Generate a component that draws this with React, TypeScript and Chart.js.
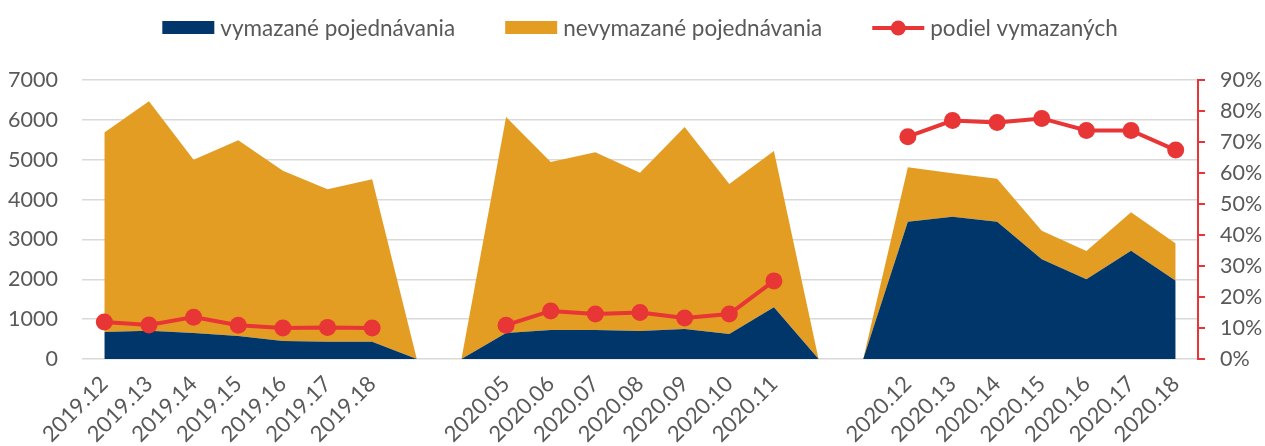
import React, { useEffect, useRef } from 'react';
import { Chart, registerables } from 'chart.js';

Chart.register(...registerables);

const categories = [
  '2019.12', '2019.13', '2019.14', '2019.15', '2019.16', '2019.17', '2019.18', '', '',
  '2020.05', '2020.06', '2020.07', '2020.08', '2020.09', '2020.10', '2020.11', '', '',
  '2020.12', '2020.13', '2020.14', '2020.15', '2020.16', '2020.17', '2020.18',
];

const deletedHearings = [
  680, 710, 650, 580, 450, 430, 430, 0, 0,
  650, 730, 730, 700, 750, 630, 1300, 0, 0,
  3445, 3570, 3445, 2500, 2000, 2715, 1965,
];

const notDeletedHearings = [
  5000, 5755, 4350, 4910, 4270, 3830, 4080, 0, 0,
  5420, 4210, 4460, 3970, 5070, 3760, 3920, 0, 0,
  1365, 1090, 1080, 720, 710, 965, 935,
];

const deletedShare = [
  11.9, 11.0, 13.5, 10.9, 10.0, 10.2, 10.0, null, null,
  10.9, 15.5, 14.5, 15.0, 13.2, 14.5, 25.2, null, null,
  71.7, 76.9, 76.3, 77.6, 73.7, 73.7, 67.4,
];

const leftTicksMax = 7000;
const rightTicksMax = 90;

const FONT = 'Lato, "Liberation Sans", sans-serif';
const BLUE = '#00366a';
const ORANGE = '#e39d22';
const RED = '#e83535';
const TEXT = '#595959';

const legendPlugin = {
  id: 'customLegend',
  afterDraw(chart: any) {
    const ctx = chart.ctx as CanvasRenderingContext2D;
    const ds = chart.data.datasets as any[];
    ctx.save();
    ctx.font = `22.5px ${FONT}`;
    const symW = 52;
    const gapText = 6;
    const gapItem = 50;
    const widths = ds.map((d) => ctx.measureText(d.label).width);
    const total =
      widths.reduce((a, b) => a + b, 0) + ds.length * (symW + gapText) + gapItem * (ds.length - 1);
    let x = (chart.chartArea.left + chart.chartArea.right) / 2 - total / 2;
    const y = 28;
    ds.forEach((d, i) => {
      if (d.yAxisID === 'y1') {
        ctx.strokeStyle = d.borderColor;
        ctx.lineWidth = 4;
        ctx.beginPath();
        ctx.moveTo(x, y);
        ctx.lineTo(x + symW, y);
        ctx.stroke();
        ctx.fillStyle = d.pointBackgroundColor;
        ctx.beginPath();
        ctx.arc(x + symW / 2, y, 7.5, 0, Math.PI * 2);
        ctx.fill();
      } else {
        ctx.fillStyle = d.backgroundColor;
        ctx.fillRect(x, y - 7, symW, 13);
      }
      ctx.fillStyle = TEXT;
      ctx.textBaseline = 'middle';
      ctx.textAlign = 'left';
      ctx.fillText(d.label, x + symW + gapText, y + 1);
      x += symW + gapText + widths[i] + gapItem;
    });
    ctx.restore();
  },
};

export default function App() {
  const ref = useRef<HTMLCanvasElement | null>(null);

  useEffect(() => {
    document.body.style.margin = '0';
    if (!ref.current) return;
    const chart = new Chart(ref.current, {
      type: 'line',
      data: {
        labels: categories,
        datasets: [
          {
            label: 'vymazané pojednávania',
            data: deletedHearings,
            backgroundColor: BLUE,
            borderColor: BLUE,
            borderWidth: 0,
            pointRadius: 0,
            fill: 'origin',
            yAxisID: 'y',
            order: 1,
            tension: 0,
          },
          {
            label: 'nevymazané pojednávania',
            data: notDeletedHearings,
            backgroundColor: ORANGE,
            borderColor: ORANGE,
            borderWidth: 0,
            pointRadius: 0,
            fill: '-1',
            yAxisID: 'y',
            order: 1,
            tension: 0,
          },
          {
            label: 'podiel vymazaných',
            data: deletedShare,
            borderColor: RED,
            backgroundColor: RED,
            pointBackgroundColor: RED,
            pointBorderColor: RED,
            borderWidth: 4,
            pointRadius: 8.5,
            pointBorderWidth: 0,
            fill: false,
            spanGaps: false,
            yAxisID: 'y1',
            order: 0,
            tension: 0,
          } as any,
        ],
      },
      options: {
        responsive: false,
        animation: false,
        layout: { padding: { top: 80, left: 0, right: 0, bottom: 0 } },
        plugins: {
          legend: { display: false },
          tooltip: { enabled: false },
        },
        scales: {
          x: {
            offset: true,
            grid: { display: false, drawTicks: false },
            border: { display: false },
            ticks: {
              autoSkip: false,
              minRotation: 45,
              maxRotation: 45,
              padding: 12,
              color: TEXT,
              font: { family: FONT, size: 22 },
            },
            afterFit: (s: any) => {
              s.height = 87;
            },
          },
          y: {
            stacked: true,
            position: 'left',
            min: 0,
            max: leftTicksMax,
            ticks: {
              stepSize: 1000,
              padding: 24,
              color: TEXT,
              font: { family: FONT, size: 21.5 },
              callback: (v: any) => String(v),
            },
            grid: { color: '#d9d9d9', lineWidth: 1.5, drawTicks: false },
            border: { display: false },
            afterFit: (s: any) => {
              s.width = 82;
            },
          },
          y1: {
            position: 'right',
            min: 0,
            max: rightTicksMax,
            ticks: {
              stepSize: 10,
              padding: 15,
              color: TEXT,
              font: { family: FONT, size: 21.5 },
              callback: (v: any) => `${v}%`,
            },
            grid: {
              drawOnChartArea: false,
              drawTicks: true,
              tickLength: 7,
              color: RED,
              lineWidth: 2,
            },
            border: { display: true, color: RED, width: 2 },
            afterFit: (s: any) => {
              s.width = 67;
            },
          },
        },
      },
      plugins: [legendPlugin],
    });
    return () => chart.destroy();
  }, []);

  return (
    <div style={{ width: 1265, height: 446 }}>
      <canvas ref={ref} width={1265} height={446} />
    </div>
  );
}
